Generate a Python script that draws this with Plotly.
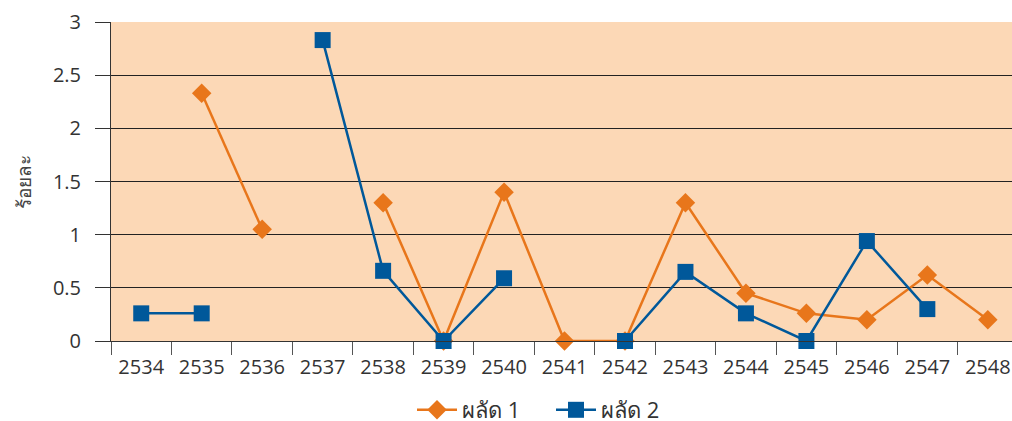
import plotly.graph_objects as go

years = ["2534", "2535", "2536", "2537", "2538", "2539", "2540", "2541",
         "2542", "2543", "2544", "2545", "2546", "2547", "2548"]
series1 = [None, 2.33, 1.05, None, 1.30, 0.0, 1.40, 0.0, 0.0, 1.30, 0.45, 0.26, 0.20, 0.62, 0.20]
series2 = [0.26, 0.26, None, 2.83, 0.66, 0.0, 0.59, None, 0.0, 0.65, 0.26, 0.0, 0.94, 0.30, None]
name1 = "ผลัด 1"
name2 = "ผลัด 2"
y_title = "ร้อยละ"
y_ticks = [0, 0.5, 1, 1.5, 2, 2.5, 3]
y_ticklabels = ["0", "0.5", "1", "1.5", "2", "2.5", "3"]

ORANGE = "#E8761B"
BLUE = "#00589A"
FONT = "Open Sans, Noto Sans, sans-serif"

fig = go.Figure()
fig.add_trace(go.Scatter(
    x=years, y=series1, name=name1, mode="lines+markers",
    line=dict(color=ORANGE, width=2.5),
    marker=dict(symbol="diamond", size=15, color=ORANGE),
    cliponaxis=False,
))
fig.add_trace(go.Scatter(
    x=years, y=series2, name=name2, mode="lines+markers",
    line=dict(color=BLUE, width=2.5),
    marker=dict(symbol="square", size=16, color=BLUE),
    cliponaxis=False,
))

fig.update_layout(
    width=1012, height=421,
    margin=dict(l=111, r=0, t=22, b=80, autoexpand=False),
    paper_bgcolor="white",
    plot_bgcolor="#FCD8B6",
    font=dict(family=FONT, size=20, color="#333333"),
    showlegend=True,
    legend=dict(orientation="h", x=(412 - 111) / 901, xanchor="left",
                y=-(410 - 341) / 319, yanchor="middle",
                font=dict(size=22, color="#333333"), itemwidth=40,
                entrywidth=84, entrywidthmode="pixels",
                bgcolor="rgba(0,0,0,0)"),
    annotations=[dict(text=y_title, textangle=-90, xref="paper", yref="paper",
                      x=(23 - 111) / 901, y=0.5, xanchor="center", yanchor="middle",
                      showarrow=False, font=dict(size=19, color="#444444"))],
)
fig.update_xaxes(
    type="category", range=[-0.5, 14.4], automargin=False,
    showgrid=False, showline=True, linecolor="#333333", linewidth=1,
    ticks="outside", tickson="boundaries", ticklen=13, tickcolor="#555555",
    ticklabelstandoff=8,
    tickfont=dict(size=20, color="#333333"), zeroline=False,
)
fig.update_yaxes(
    range=[0, 3], tickvals=y_ticks, ticktext=y_ticklabels, automargin=False,
    showgrid=True, gridcolor="#222222", gridwidth=1,
    showline=True, linecolor="#333333", linewidth=1,
    ticks="outside", ticklen=15, tickcolor="#333333",
    ticklabelstandoff=10,
    tickfont=dict(size=20, color="#333333"), zeroline=False,
)
fig.write_html("out.html", config={"displayModeBar": False},
               post_script="document.body.style.margin='0';document.body.style.overflow='hidden';")
